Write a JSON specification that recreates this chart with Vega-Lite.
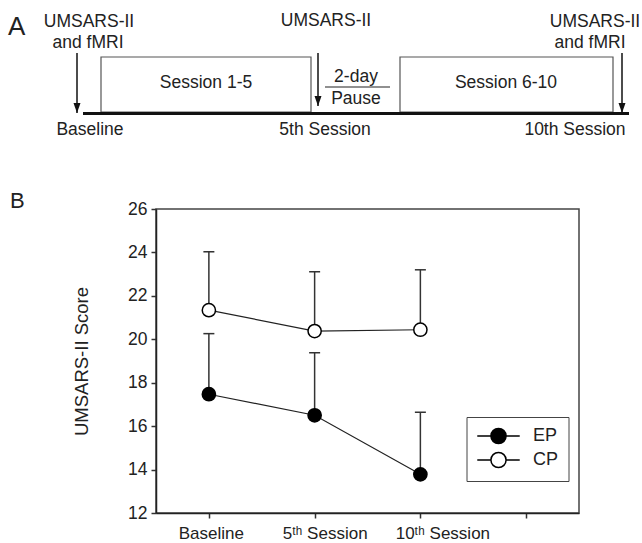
{
  "$schema": "https://vega.github.io/schema/vega-lite/v6.json",
  "padding": {"left": 8, "top": 0, "right": 0, "bottom": 0},
  "spacing": 39,
  "config": {"font": "Liberation Sans", "view": {"stroke": null}},
  "datasets": {
    "boxes": [
      {"x": 101, "x2": 311, "y": 57, "y2": 112},
      {"x": 400, "x2": 613, "y": 57, "y2": 112}
    ],
    "hlines": [
      {"name": "timeline", "x": 83, "x2": 629, "y": 113.5}
    ],
    "fraction": [
      {"name": "pause", "x": 325, "x2": 390, "y": 87}
    ],
    "arrows": [
      {"x": 77, "y": 53, "y2": 113},
      {"x": 318, "y": 53, "y2": 106},
      {"x": 622, "y": 53, "y2": 113}
    ],
    "labelsA": [
      {"x": 89, "y": 22, "label": "UMSARS-II"},
      {"x": 88, "y": 43, "label": "and fMRI"},
      {"x": 326, "y": 21, "label": "UMSARS-II"},
      {"x": 595, "y": 22, "label": "UMSARS-II"},
      {"x": 590, "y": 43, "label": "and fMRI"},
      {"x": 206, "y": 83, "label": "Session 1-5"},
      {"x": 506, "y": 83, "label": "Session 6-10"},
      {"x": 356, "y": 77, "label": "2-day"},
      {"x": 356, "y": 99, "label": "Pause"},
      {"x": 90, "y": 130, "label": "Baseline"},
      {"x": 325, "y": 130, "label": "5th Session"},
      {"x": 575, "y": 130, "label": "10th Session"}
    ],
    "panelLetter": [
      {"x": 8, "y": 27, "label": "A"}
    ],
    "scores": [
      {"group": "EP", "t": 1, "mean": 17.47, "upper": 20.26},
      {"group": "EP", "t": 2, "mean": 16.5, "upper": 19.38},
      {"group": "EP", "t": 3, "mean": 13.78, "upper": 16.64},
      {"group": "CP", "t": 1, "mean": 21.34, "upper": 24.03},
      {"group": "CP", "t": 2, "mean": 20.38, "upper": 23.11},
      {"group": "CP", "t": 3, "mean": 20.44, "upper": 23.2}
    ]
  },
  "vconcat": [
    {
      "width": 486,
      "height": 150,
      "view": {"fill": "white", "stroke": null},
      "encoding": {
        "x": {"field": "x", "type": "quantitative", "scale": {"domain": [156, 642], "nice": false, "zero": false}, "axis": null},
        "y": {"field": "y", "type": "quantitative", "scale": {"domain": [0, 150], "nice": false, "zero": false, "reverse": true}, "axis": null}
      },
      "layer": [
        {
          "data": {"name": "boxes"},
          "mark": {"type": "rect", "fill": "white", "stroke": "#555", "strokeWidth": 1.2},
          "encoding": {"x2": {"field": "x2"}, "y2": {"field": "y2"}}
        },
        {
          "data": {"name": "hlines"},
          "mark": {"type": "rule", "color": "#111", "strokeWidth": 3},
          "encoding": {"x2": {"field": "x2"}}
        },
        {
          "data": {"name": "fraction"},
          "mark": {"type": "rule", "color": "#222", "strokeWidth": 1.2},
          "encoding": {"x2": {"field": "x2"}}
        },
        {
          "data": {"name": "arrows"},
          "mark": {"type": "rule", "color": "#111", "strokeWidth": 1.5},
          "encoding": {"y2": {"field": "y2"}}
        },
        {
          "data": {"name": "arrows"},
          "mark": {"type": "point", "shape": "M-0.7,-2L0.7,-2L0,0Z", "size": 100, "filled": true, "color": "#111", "opacity": 1},
          "encoding": {
            "y": {"field": "y2", "type": "quantitative", "scale": {"domain": [0, 150], "nice": false, "zero": false, "reverse": true}, "axis": null}
          }
        },
        {
          "data": {"name": "labelsA"},
          "mark": {"type": "text", "fontSize": 17.5, "color": "#222", "align": "center", "baseline": "middle"},
          "encoding": {"text": {"field": "label"}}
        },
        {
          "data": {"name": "panelLetter"},
          "mark": {"type": "text", "fontSize": 26, "color": "#222", "align": "left", "baseline": "middle"},
          "encoding": {"text": {"field": "label"}}
        }
      ]
    },
    {
      "width": 423,
      "height": 304,
      "title": {"text": "B", "anchor": "start", "frame": "group", "fontSize": 22, "fontWeight": "normal", "color": "#222", "dx": -146, "offset": -13},
      "view": {"stroke": "#444", "strokeWidth": 1.5},
      "data": {"name": "scores"},
      "encoding": {
        "x": {
          "field": "t", "type": "quantitative",
          "scale": {"domain": [0.5, 4.5], "nice": false, "zero": false},
          "axis": {
            "title": null, "values": [1, 2, 3, 4], "grid": false,
            "labelExpr": "datum.value == 1 ? 'Baseline' : datum.value == 2 ? '5ᵗʰ Session' : datum.value == 3 ? '10ᵗʰ Session' : ''",
            "labelFontSize": 17, "labelColor": "#222", "labelPadding": 7,
            "labelOffset": {"condition": [{"test": "datum.value == 2", "value": 10}, {"test": "datum.value == 3", "value": 22}], "value": 2},
            "tickSize": 5, "tickColor": "#333", "tickWidth": 1.5,
            "domainColor": "#222", "domainWidth": 1.5
          }
        }
      },
      "layer": [
        {
          "mark": {"type": "rule", "color": "#333", "strokeWidth": 1.5},
          "encoding": {
            "y": {
              "field": "mean", "type": "quantitative",
              "scale": {"domain": [12, 26], "nice": false, "zero": false},
              "axis": {
                "title": "UMSARS-II Score", "values": [12, 14, 16, 18, 20, 22, 24, 26], "grid": false,
                "labelFontSize": 17.5, "labelColor": "#222", "labelPadding": 4,
                "tickSize": 5, "tickColor": "#333", "tickWidth": 1.5,
                "domainColor": "#222", "domainWidth": 1.5,
                "titleFontSize": 18.5, "titleFontWeight": "normal", "titleColor": "#222", "titlePadding": 36
              }
            },
            "y2": {"field": "upper"}
          }
        },
        {
          "mark": {"type": "tick", "orient": "horizontal", "size": 11, "thickness": 1.5, "color": "#333", "opacity": 1},
          "encoding": {"y": {"field": "upper", "type": "quantitative"}}
        },
        {
          "mark": {"type": "line", "color": "#222", "strokeWidth": 1.2},
          "encoding": {"y": {"field": "mean", "type": "quantitative"}, "detail": {"field": "group"}}
        },
        {
          "mark": {"type": "point", "shape": "circle", "size": 175, "filled": true, "stroke": "black", "strokeWidth": 1.5, "opacity": 1},
          "encoding": {
            "y": {"field": "mean", "type": "quantitative"},
            "fill": {
              "field": "group", "type": "nominal",
              "scale": {"domain": ["EP", "CP"], "range": ["black", "white"]},
              "legend": {
                "title": null, "orient": "none", "legendX": 310.5, "legendY": 417,
                "symbolType": "M-1,0A1,1,0,1,1,1,0A1,1,0,1,1,-1,0ZM-2.8,0L-1,0M1,0L2.8,0",
                "symbolSize": 230, "symbolStrokeColor": "black", "symbolStrokeWidth": 1.5,
                "symbolOffset": 13, "labelOffset": 25.5,
                "labelFontSize": 18, "labelColor": "#222",
                "strokeColor": "#444", "fillColor": "white", "padding": 10, "rowPadding": 2
              }
            }
          }
        }
      ]
    }
  ]
}
